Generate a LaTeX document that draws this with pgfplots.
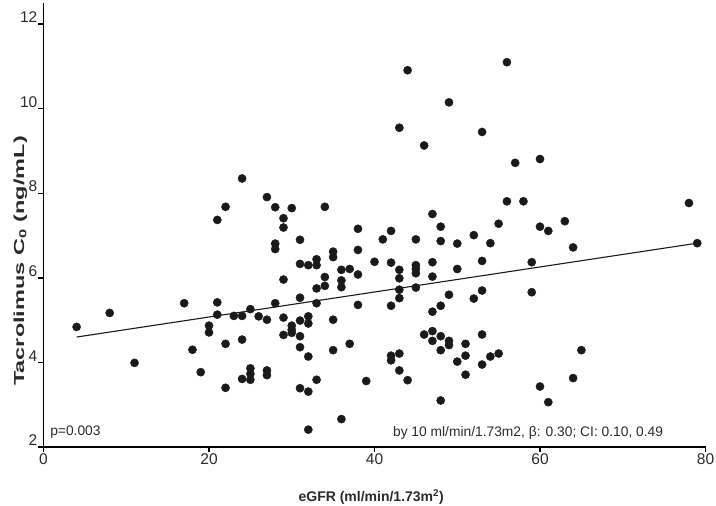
\documentclass[border=0pt]{standalone}
\usepackage{pgfplots}
\pgfplotsset{compat=1.18}
\usepackage{pgfplotstable}
\usepackage{fontspec}
\setmainfont{Liberation Sans}
\usetikzlibrary{calc}
\definecolor{dot}{HTML}{1A1A1A}
\definecolor{txt}{HTML}{2A2A2A}
\pgfplotstableread{
x y
4 4.84
8 5.17
11 3.99
17 5.40
18 4.30
19 3.77
20 4.87
20 4.71
21 5.42
21 5.13
21 7.37
22 7.68
22 4.44
22 3.40
23 5.10
24 8.35
27 7.91
28 7.67
30 7.65
29 7.41
29 7.19
34 7.68
28 6.81
28 6.68
31 6.90
29 5.96
31 6.33
32 6.30
33 6.44
33 6.30
35 6.62
35 6.49
34 6.02
34 5.81
33 5.75
36 6.19
37 6.21
36 5.94
36 5.78
38 6.08
38 6.66
38 7.16
40 6.38
41 6.91
42 7.11
42 6.36
43 6.19
43 5.99
43 5.72
43 5.52
45 6.91
45 6.30
45 6.21
45 6.11
45 5.77
42 5.34
38 5.36
33 5.40
31 5.53
28 5.40
25 5.26
24 5.10
26 5.09
27 5.01
29 5.06
31 4.99
32 5.09
32 4.92
30 4.87
30 4.77
30 4.70
29 4.65
31 4.62
35 5.01
24 4.54
31 4.36
32 4.14
35 4.29
37 4.44
25 3.86
25 3.73
25 3.59
24 3.61
27 3.81
27 3.70
31 3.39
32 3.31
33 3.59
36 2.66
32 2.41
39 3.56
42 4.16
42 4.05
43 4.21
43 3.81
44 3.58
46 4.66
44 10.91
43 9.55
56 11.10
49 10.15
53 9.45
46 9.13
57 8.72
60 8.81
56 7.81
58 7.81
78 7.77
47 7.51
48 7.21
55 7.28
60 7.21
61 7.11
63 7.34
52 7.01
48 6.87
50 6.81
54 6.82
64 6.72
79 6.82
47 6.37
53 6.40
59 6.37
47 6.03
50 6.21
49 5.60
53 5.70
52 5.51
59 5.66
48 5.34
47 5.20
47 4.74
47 4.51
48 4.62
49 4.51
49 4.41
48 4.29
51 4.44
53 4.66
50 4.02
51 4.16
54 4.14
55 4.21
53 3.95
51 3.71
65 4.29
64 3.63
60 3.43
48 3.10
61 3.06
}\scatterdata
\begin{document}
\begin{tikzpicture}
\begin{axis}[
  scale only axis, width=662pt, height=444pt,
  xmin=0, xmax=80, ymin=2, ymax=12.5,
  axis x line=bottom, axis y line=left,
  axis line style={-, line width=1.6pt, black},
  xtick={0,20,...,80}, ytick={2,4,...,12},
  tick align=outside, major tick length=5pt,
  tick style={line width=1.5pt, black},
  /pgf/number format/assume math mode=true,
  xticklabel style={font=\fontsize{15.5}{17}\selectfont, text=txt, inner sep=1.5pt},
  yticklabel style={font=\fontsize{15.5}{17}\selectfont, text=txt, anchor=south east, inner sep=1pt},
  xlabel={\textbf{eGFR (ml/min/1.73m\textsuperscript{2})}},
  ylabel={\scalebox{1.62}[1]{\fontsize{14.5}{16}\selectfont\textbf{Tacrolimus C\textsubscript{0} (ng/mL)}}},
  label style={font=\fontsize{14}{16}\selectfont, text=txt},
  xlabel style={at={(axis description cs:0.495,-0.1126)}, anchor=center},
  ylabel style={at={(axis description cs:-0.0348,0.419)}, anchor=center, rotate=0},
  clip=false,
]
\coordinate (ll) at (rel axis cs:0,0);
\coordinate (ur) at (rel axis cs:1,1);
\addplot[only marks, mark=*, mark size=4.1pt, mark options={draw=dot, fill=dot}] table[x=x, y=y] {\scatterdata};
\addplot[no marks, line width=1.1pt, dot] coordinates {(4,4.60) (79,6.82)};
\node[anchor=base west, font=\fontsize{13.8}{15}\selectfont, text=txt, inner sep=0pt] at (axis cs:0.8,2.28) {p=0.003};
\node[anchor=base east, font=\fontsize{13.8}{15}\selectfont, text=txt, inner sep=0pt] at (axis cs:74.9,2.25) {by 10 ml/min/1.73m2, β: 0.30; CI: 0.10, 0.49};
\end{axis}
\pgfresetboundingbox
\path ($(ll)+(-43.5pt,-58pt)$) rectangle ($(ur)+(10.5pt,3pt)$);
\end{tikzpicture}
\end{document}
